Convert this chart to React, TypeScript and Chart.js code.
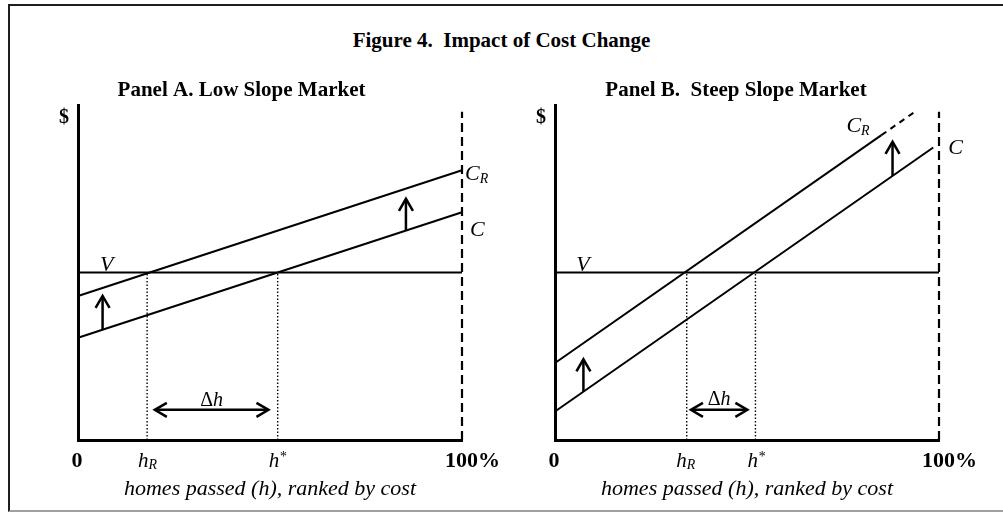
import React, { useEffect, useRef } from "react";
import { Chart, registerables } from "chart.js";

Chart.register(...registerables);

const FONT = "'Liberation Serif', 'Times New Roman', serif";

// ---- text ----
const figureTitle = "Figure 4.  Impact of Cost Change";
const panelTitles = ["Panel A. Low Slope Market", "Panel B.  Steep Slope Market"];
const xAxisTitle = "homes passed (h), ranked by cost";
const yAxisLabel = "$";
const endTickLabels = ["0", "100%"];
const valueLabel = "V";
const costLabel = "C";
const costRSub = "R";
const hLabel = "h";
const hRSub = "R";
const hStarSup = "*";
const deltaLabel = ["\u0394", "h"];

// ---- scales ----
const shareRange = [0, 100]; // homes passed, %
const dollarRange = [0, 100]; // $ (arbitrary units)
const valueX = [0, 100];
const valueY = [50, 50];
const boundaryX = [100, 100];
const boundaryY = [0, 98];

// ---- Panel A: low slope ----
const aCostX = [0, 100];
const aCostY = [30.5, 68];
const aCostRX = [0, 100];
const aCostRY = [43, 80.5];
const aThresholds = [18, 52]; // h_R, h*
const aShiftX = [6.4, 85.4];
const aShiftFrom = [33, 62.5];
const aShiftTo = [43, 72];
const aDeltaX = [20, 49.6];
const aDeltaY = [9, 9];

// ---- Panel B: steep slope ----
const bCostX = [0, 98.5];
const bCostY = [8.5, 87.3];
const bCostRX = [0, 85, 94];
const bCostRY = [23, 91, 98.2];
const bThresholds = [34.3, 52.2];
const bShiftX = [7.4, 87.9];
const bShiftFrom = [14.4, 78.8];
const bShiftTo = [24.1, 89];
const bDeltaX = [35.4, 50.1];
const bDeltaY = [9, 9];

const pts = (xs: number[], ys: number[]) => xs.map((x, i) => ({ x, y: ys[i] }));

type Panel = {
  title: string;
  costX: number[];
  costY: number[];
  costRX: number[];
  costRY: number[];
  crDashFrom: number | null;
  thresholds: number[];
  shiftX: number[];
  shiftFrom: number[];
  shiftTo: number[];
  deltaX: number[];
  deltaY: number[];
  vLabelX: number;
  crLabel: { dx: number; dy: number };
  cLabel: { dx: number; dy: number };
  box: { left: number; width: number; padLeft: number; padRight: number; axisW: number };
  hROff: number;
  hStarOff: number;
  deltaDy: number;
};

const panelA: Panel = {
  title: panelTitles[0],
  costX: aCostX,
  costY: aCostY,
  costRX: aCostRX,
  costRY: aCostRY,
  crDashFrom: null,
  thresholds: aThresholds,
  shiftX: aShiftX,
  shiftFrom: aShiftFrom,
  shiftTo: aShiftTo,
  deltaX: aDeltaX,
  deltaY: aDeltaY,
  vLabelX: 7.5,
  crLabel: { dx: 3, dy: 10 },
  cLabel: { dx: 8, dy: 24 },
  box: { left: 10, width: 497, padLeft: 11, padRight: 45, axisW: 57 },
  hROff: -9,
  hStarOff: -9,
  deltaDy: -4,
};

const panelB: Panel = {
  title: panelTitles[1],
  costX: bCostX,
  costY: bCostY,
  costRX: bCostRX,
  costRY: bCostRY,
  crDashFrom: 1,
  thresholds: bThresholds,
  shiftX: bShiftX,
  shiftFrom: bShiftFrom,
  shiftTo: bShiftTo,
  deltaX: bDeltaX,
  deltaY: bDeltaY,
  vLabelX: 7.3,
  crLabel: { dx: -35, dy: -3 },
  cLabel: { dx: 15, dy: 6 },
  box: { left: 500, width: 494, padLeft: 33, padRight: 55, axisW: 22 },
  hROff: -10.5,
  hStarOff: -8,
  deltaDy: -5,
};

function arrowHead(ctx: CanvasRenderingContext2D, x: number, y: number, dx: number, dy: number) {
  const len = 12;
  const half = 7;
  const bx = x - dx * len;
  const by = y - dy * len;
  const px = -dy;
  const py = dx;
  ctx.beginPath();
  ctx.moveTo(bx + px * half, by + py * half);
  ctx.lineTo(x, y);
  ctx.lineTo(bx - px * half, by - py * half);
  ctx.stroke();
}

function drawWithSub(
  ctx: CanvasRenderingContext2D,
  main: string,
  sub: string,
  x: number,
  y: number,
  size: number,
  subSize: number,
  shift: number
) {
  ctx.textAlign = "left";
  ctx.font = `italic ${size}px ${FONT}`;
  ctx.fillText(main, x, y);
  const w = ctx.measureText(main).width;
  ctx.font = `italic ${subSize}px ${FONT}`;
  ctx.fillText(sub, x + w, y + shift);
}

function makeAnnotations(p: Panel) {
  return {
    id: "annotations",
    afterDraw(chart: any) {
      const ctx: CanvasRenderingContext2D = chart.ctx;
      const xs = chart.scales.x;
      const ys = chart.scales.y;
      const X = (v: number) => xs.getPixelForValue(v);
      const Y = (v: number) => ys.getPixelForValue(v);
      ctx.save();
      ctx.fillStyle = "#000";
      ctx.strokeStyle = "#000";
      ctx.textBaseline = "alphabetic";
      ctx.lineCap = "butt";
      ctx.lineJoin = "miter";

      // $ label
      ctx.font = `bold 20px ${FONT}`;
      ctx.textAlign = "center";
      ctx.fillText(yAxisLabel, X(shareRange[0]) - 14, Y(dollarRange[1]) + 18);

      // V label
      ctx.font = `italic 22px ${FONT}`;
      ctx.fillText(valueLabel, X(p.vLabelX), Y(valueY[0]) - 2);

      // C_R label (anchored at end of solid C_R segment)
      const crIdx = p.crDashFrom == null ? p.costRX.length - 1 : p.crDashFrom;
      drawWithSub(
        ctx,
        costLabel,
        costRSub,
        X(p.costRX[crIdx]) + p.crLabel.dx,
        Y(p.costRY[crIdx]) + p.crLabel.dy,
        22,
        14,
        3
      );
      // C label
      const cIdx = p.costX.length - 1;
      ctx.font = `italic 22px ${FONT}`;
      ctx.textAlign = "left";
      ctx.fillText(costLabel, X(p.costX[cIdx]) + p.cLabel.dx, Y(p.costY[cIdx]) + p.cLabel.dy);

      // upward shift arrows
      ctx.lineWidth = 2.5;
      p.shiftX.forEach((sx, i) => {
        const x = X(sx);
        const y0 = Y(p.shiftFrom[i]);
        const y1 = Y(p.shiftTo[i]);
        ctx.beginPath();
        ctx.moveTo(x, y0);
        ctx.lineTo(x, y1 + 1);
        ctx.stroke();
        arrowHead(ctx, x, y1, 0, -1);
      });

      // delta h double arrow
      const dx0 = X(p.deltaX[0]);
      const dx1 = X(p.deltaX[1]);
      const dy = Y(p.deltaY[0]);
      ctx.beginPath();
      ctx.moveTo(dx0 + 1, dy);
      ctx.lineTo(dx1 - 1, dy);
      ctx.stroke();
      arrowHead(ctx, dx0, dy, -1, 0);
      arrowHead(ctx, dx1, dy, 1, 0);

      // delta h label
      ctx.font = `20px ${FONT}`;
      const wD = ctx.measureText(deltaLabel[0]).width;
      ctx.font = `italic 20px ${FONT}`;
      const wH = ctx.measureText(deltaLabel[1]).width;
      const cx = (dx0 + dx1) / 2;
      const startX = cx - (wD + wH) / 2;
      const baseD = dy + p.deltaDy;
      ctx.textAlign = "left";
      ctx.font = `20px ${FONT}`;
      ctx.fillText(deltaLabel[0], startX, baseD);
      ctx.font = `italic 20px ${FONT}`;
      ctx.fillText(deltaLabel[1], startX + wD, baseD);

      // x tick labels
      const base = xs.top + 27;
      ctx.font = `bold 22px ${FONT}`;
      ctx.textAlign = "center";
      ctx.fillText(endTickLabels[0], X(shareRange[0]) - 1, base);
      ctx.textAlign = "left";
      ctx.fillText(endTickLabels[1], X(shareRange[1]) - 17, base);
      drawWithSub(ctx, hLabel, hRSub, X(p.thresholds[0]) + p.hROff, base, 21, 14, 2);
      drawWithSub(ctx, hLabel, hStarSup, X(p.thresholds[1]) + p.hStarOff, base, 21, 14, -6);

      ctx.restore();
    },
  };
}

function PanelChart({ p }: { p: Panel }) {
  const ref = useRef<HTMLCanvasElement | null>(null);
  useEffect(() => {
    if (!ref.current) return;
    const common = { borderColor: "#000", pointRadius: 0, fill: false, tension: 0, clip: false };
    const chart = new Chart(ref.current, {
      type: "line",
      data: {
        datasets: [
          { ...common, data: pts(valueX, valueY), borderWidth: 2.2 },
          { ...common, data: pts(p.costX, p.costY), borderWidth: 2 },
          {
            ...common,
            data: pts(p.costRX, p.costRY),
            borderWidth: 2,
            segment: {
              borderDash: (c: any) =>
                p.crDashFrom != null && c.p0DataIndex >= p.crDashFrom ? [6, 5] : undefined,
            },
          },
          { ...common, data: pts(boundaryX, boundaryY), borderWidth: 2.2, borderDash: [9, 5] },
          {
            ...common,
            data: pts([p.thresholds[0], p.thresholds[0]], [dollarRange[0], valueY[0]]),
            borderWidth: 1.4,
            borderDash: [1.5, 2],
          },
          {
            ...common,
            data: pts([p.thresholds[1], p.thresholds[1]], [dollarRange[0], valueY[0]]),
            borderWidth: 1.4,
            borderDash: [1.5, 2],
          },
        ] as any,
      },
      options: {
        animation: false,
        responsive: false,
        maintainAspectRatio: false,
        events: [],
        layout: { padding: { left: p.box.padLeft, right: p.box.padRight, top: 0, bottom: 0 } },
        plugins: {
          legend: { display: false },
          tooltip: { enabled: false },
          title: {
            display: true,
            text: p.title,
            color: "#000",
            font: { family: FONT, size: 21, weight: "bold" },
            padding: { top: 17.6, bottom: 2.2 },
          },
        },
        scales: {
          x: {
            type: "linear",
            min: shareRange[0],
            max: shareRange[1],
            grid: { display: false, drawTicks: false },
            border: { display: true, color: "#000", width: 3 },
            ticks: { display: false },
            title: {
              display: true,
              text: xAxisTitle,
              color: "#000",
              font: { family: FONT, size: 22, style: "italic" },
              padding: { top: 0, bottom: 7.2 },
            },
            afterFit: (s: any) => {
              s.height = 70;
            },
          },
          y: {
            type: "linear",
            min: dollarRange[0],
            max: dollarRange[1],
            grid: { display: false, drawTicks: false },
            border: { display: true, color: "#000", width: 3 },
            ticks: { display: false },
            afterFit: (s: any) => {
              s.width = p.box.axisW;
            },
          },
        },
      } as any,
      plugins: [makeAnnotations(p) as any],
    });
    return () => chart.destroy();
  }, [p]);
  return (
    <canvas
      ref={ref}
      width={p.box.width}
      height={450}
      style={{
        position: "absolute",
        left: p.box.left,
        top: 60,
        width: p.box.width,
        height: 450,
      }}
    />
  );
}

export default function App() {
  return (
    <div
      style={{
        position: "absolute",
        left: 0,
        top: 0,
        width: 1003,
        height: 512,
        overflow: "hidden",
        background: "#fff",
      }}
    >
      <div
        style={{
          position: "absolute",
          left: 8,
          top: 4,
          width: 1100,
          height: 504,
          borderTop: "2px solid #1e1e1e",
          borderLeft: "2px solid #1e1e1e",
          borderBottom: "2px solid #a0a0a0",
        }}
      />
      <div
        style={{
          position: "absolute",
          left: 0,
          top: 28,
          width: 1003,
          textAlign: "center",
          fontFamily: FONT,
          fontWeight: "bold",
          fontSize: 21,
          lineHeight: "24px",
          whiteSpace: "pre",
          color: "#000",
        }}
      >
        {figureTitle}
      </div>
      <PanelChart p={panelA} />
      <PanelChart p={panelB} />
    </div>
  );
}
